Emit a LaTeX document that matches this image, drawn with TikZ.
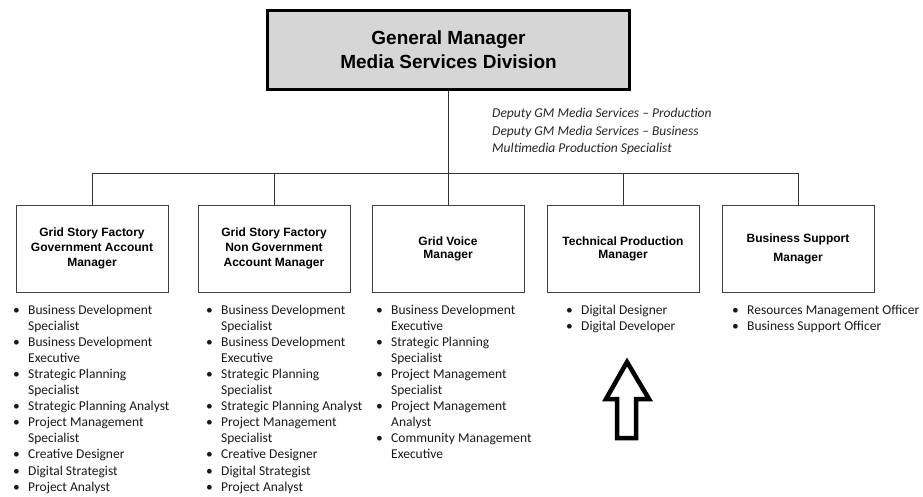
\documentclass[tikz,border=0pt]{standalone}
\usepackage{fontspec}
\setmainfont{Liberation Sans}
\newfontfamily\calibri{Carlito}
\usetikzlibrary{positioning}

% bullet list of roles below a manager box
\newcommand{\rolelist}[1]{\begin{tabular}[t]{@{}p{15pt}@{}l@{}}#1\end{tabular}}

\begin{document}
\begin{tikzpicture}[x=1pt,y=-1pt,
  manager/.style={draw=black!75, line width=0.7pt, minimum width=152pt, minimum height=87pt,
    align=center, font=\bfseries\fontsize{12}{15}\selectfont},
  roles/.style={anchor=base west, inner sep=0pt, text=black!90,
    font=\calibri\fontsize{13.5}{16.1}\selectfont},
  link/.style={draw=black!80, line width=0.8pt}]
  \useasboundingbox (0,0) rectangle (923,497);
  % general manager
  \node[draw, line width=3pt, fill=black!16, minimum width=362pt, minimum height=79pt,
    align=center, font=\bfseries\fontsize{19}{24}\selectfont] (gm) at (448.5,50)
    {General Manager\\Media Services Division};
  \node[anchor=base west, inner sep=0pt, text=black!85,
    font=\calibri\itshape\fontsize{13.5}{17.5}\selectfont] (deputy) at (492,118)
    {\begin{tabular}[t]{@{}l@{}}Deputy GM Media Services \textendash{} Production\\
      Deputy GM Media Services \textendash{} Business\\ Multimedia Production Specialist\end{tabular}};
  % managers
  \node[manager] (gov)     at (92,248.5)  {Grid Story Factory\\Government Account\\Manager};
  \node[manager] (nongov)  at (274,248.5) {Grid Story Factory\\Non Government\\Account Manager};
  \node[manager] (voice)   at (448,248.5) {Grid Voice\\[-2pt]Manager};
  \node[manager] (tech)    at (623,248.5) {Technical Production\\[-2pt]Manager};
  \node[manager] (support) at (798,248.5) {Business Support\\[4pt]Manager};
  % connectors
  \coordinate (bus) at (448.5,173);
  \draw[link] (gm) -- (bus);
  \foreach \n in {gov,nongov,voice,tech,support}{
    \draw[link] (bus) -| (\n.north);
  }
  % roles
  \node[roles] (govroles) at (13,314) {\rolelist{
    \textbullet & Business Development\\ & Specialist\\
    \textbullet & Business Development\\ & Executive\\
    \textbullet & Strategic Planning\\ & Specialist\\
    \textbullet & Strategic Planning Analyst\\
    \textbullet & Project Management\\ & Specialist\\
    \textbullet & Creative Designer\\
    \textbullet & Digital Strategist\\
    \textbullet & Project Analyst}};
  \node[roles] (nongovroles) at (206,314) {\rolelist{
    \textbullet & Business Development\\ & Specialist\\
    \textbullet & Business Development\\ & Executive\\
    \textbullet & Strategic Planning\\ & Specialist\\
    \textbullet & Strategic Planning Analyst\\
    \textbullet & Project Management\\ & Specialist\\
    \textbullet & Creative Designer\\
    \textbullet & Digital Strategist\\
    \textbullet & Project Analyst}};
  \node[roles] (voiceroles) at (376,314) {\rolelist{
    \textbullet & Business Development\\ & Executive\\
    \textbullet & Strategic Planning\\ & Specialist\\
    \textbullet & Project Management\\ & Specialist\\
    \textbullet & Project Management\\ & Analyst\\
    \textbullet & Community Management\\ & Executive}};
  \node[roles] (techroles) at (566,314) {\rolelist{
    \textbullet & Digital Designer\\
    \textbullet & Digital Developer}};
  \node[roles] (supportroles) at (732,314) {\rolelist{
    \textbullet & Resources Management Officer\\
    \textbullet & Business Support Officer}};
  % hollow arrow
  \draw[line width=4.5pt, line join=miter] (617,438) -- (617,399) -- (606,399) -- (627,362)
    -- (649,399) -- (636,399) -- (636,438) -- cycle;
\end{tikzpicture}
\end{document}
